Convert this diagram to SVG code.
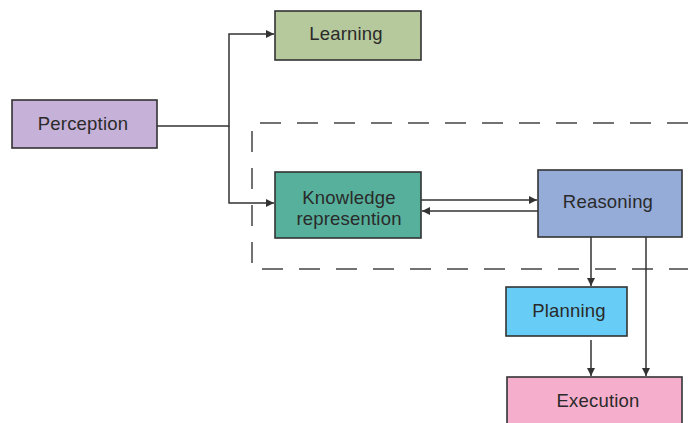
<svg xmlns="http://www.w3.org/2000/svg" width="688" height="423" viewBox="0 0 688 423">
<style>
.box{stroke:#333;stroke-width:1.6}
.lbl{font-family:"Liberation Sans",Arial,sans-serif;font-size:18.5px;letter-spacing:0.2px;fill:#2a2a2a;text-anchor:middle}
.wire{fill:none;stroke:#333;stroke-width:1.5}
</style>
<defs>
<marker id="ah" viewBox="0 0 10 10" refX="10" refY="5" markerWidth="10" markerHeight="8" markerUnits="userSpaceOnUse" orient="auto">
<path d="M0,0 L10,5 L0,10 Z" fill="#333"/>
</marker>
</defs>
<rect width="688" height="423" fill="#fff"/>
<path d="M688,123 H252 V269 H688" fill="none" stroke="#444" stroke-width="1.5" stroke-dasharray="21 16"/>
<g id="connectors">
<path class="wire" d="M157,126 H229 V34 H274" marker-end="url(#ah)"/>
<path class="wire" d="M229,126 V203 H274" marker-end="url(#ah)"/>
<path class="wire" d="M421,200 H537" marker-end="url(#ah)"/>
<path class="wire" d="M538,211 H422" marker-end="url(#ah)"/>
<path class="wire" d="M591,237 V286" marker-end="url(#ah)"/>
<path class="wire" d="M646,237 V376" marker-end="url(#ah)"/>
<path class="wire" d="M591,340 V376" marker-end="url(#ah)"/>
</g>
<g id="perception">
<rect class="box" x="12" y="100" width="145" height="48" fill="#c6b1d8"/>
<text class="lbl" x="83" y="130">Perception</text>
</g>
<g id="learning">
<rect class="box" x="275" y="11" width="146" height="49" fill="#b6c99d"/>
<text class="lbl" x="346" y="40">Learning</text>
</g>
<g id="knowledge">
<rect class="box" x="275" y="172" width="146" height="66" fill="#56b09b"/>
<text class="lbl" x="349" y="204">Knowledge</text>
<text class="lbl" x="349" y="225">represention</text>
</g>
<g id="reasoning">
<rect class="box" x="538" y="170" width="144" height="67" fill="#95acd9"/>
<text class="lbl" x="608" y="208">Reasoning</text>
</g>
<g id="planning">
<rect class="box" x="506" y="287" width="121" height="49" fill="#68cdf6"/>
<text class="lbl" x="569" y="317">Planning</text>
</g>
<g id="execution">
<rect class="box" x="507" y="377" width="175" height="60" fill="#f5afcc"/>
<text class="lbl" x="598" y="407">Execution</text>
</g>
</svg>
